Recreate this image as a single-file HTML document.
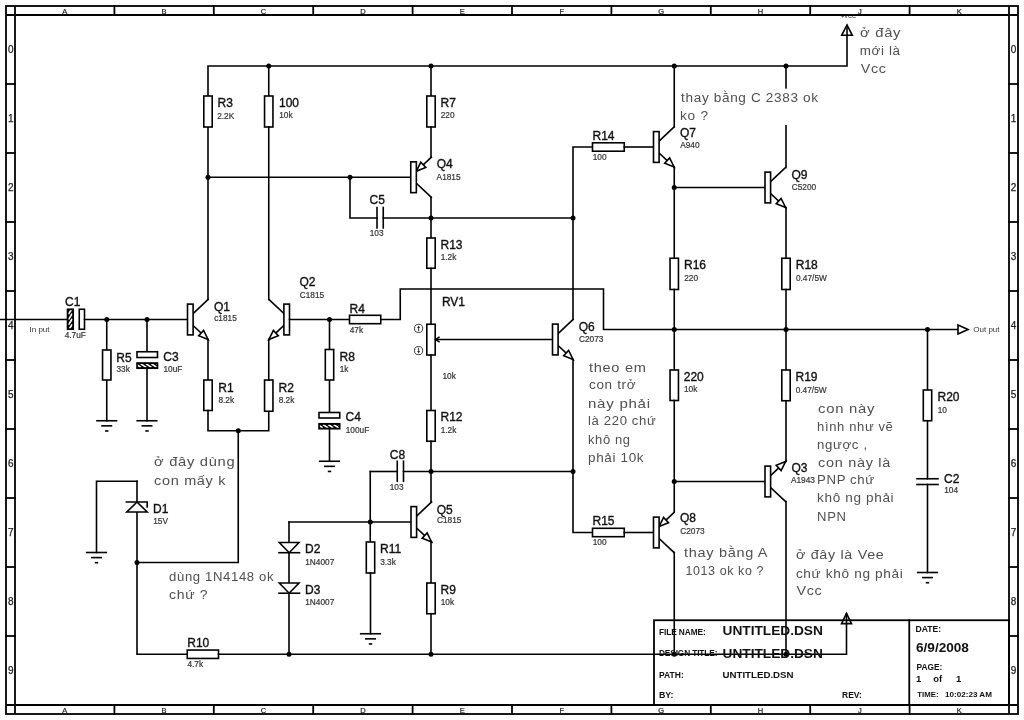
<!DOCTYPE html>
<html><head><meta charset="utf-8"><style>
html,body{margin:0;padding:0;background:#fff;}
svg{display:block;font-family:"Liberation Sans",sans-serif;will-change:transform;}
</style></head><body>
<svg width="1024" height="720" viewBox="0 0 1024 720">
<rect x="6" y="6" width="1012" height="708" fill="none" stroke="#000" stroke-width="1.8"/>
<line x1="6" y1="15" x2="1018" y2="15" stroke="#000" stroke-width="1.8"/>
<line x1="6" y1="705" x2="1018" y2="705" stroke="#000" stroke-width="1.8"/>
<line x1="15" y1="6" x2="15" y2="714" stroke="#000" stroke-width="1.8"/>
<line x1="1009" y1="6" x2="1009" y2="714" stroke="#000" stroke-width="1.8"/>
<polyline points="114.4,6 114.4,15" fill="none" stroke="#000" stroke-width="1.8" stroke-linejoin="miter" stroke-linecap="square"/>
<polyline points="114.4,705 114.4,714" fill="none" stroke="#000" stroke-width="1.8" stroke-linejoin="miter" stroke-linecap="square"/>
<polyline points="213.8,6 213.8,15" fill="none" stroke="#000" stroke-width="1.8" stroke-linejoin="miter" stroke-linecap="square"/>
<polyline points="213.8,705 213.8,714" fill="none" stroke="#000" stroke-width="1.8" stroke-linejoin="miter" stroke-linecap="square"/>
<polyline points="313.20000000000005,6 313.20000000000005,15" fill="none" stroke="#000" stroke-width="1.8" stroke-linejoin="miter" stroke-linecap="square"/>
<polyline points="313.20000000000005,705 313.20000000000005,714" fill="none" stroke="#000" stroke-width="1.8" stroke-linejoin="miter" stroke-linecap="square"/>
<polyline points="412.6,6 412.6,15" fill="none" stroke="#000" stroke-width="1.8" stroke-linejoin="miter" stroke-linecap="square"/>
<polyline points="412.6,705 412.6,714" fill="none" stroke="#000" stroke-width="1.8" stroke-linejoin="miter" stroke-linecap="square"/>
<polyline points="512.0,6 512.0,15" fill="none" stroke="#000" stroke-width="1.8" stroke-linejoin="miter" stroke-linecap="square"/>
<polyline points="512.0,705 512.0,714" fill="none" stroke="#000" stroke-width="1.8" stroke-linejoin="miter" stroke-linecap="square"/>
<polyline points="611.4000000000001,6 611.4000000000001,15" fill="none" stroke="#000" stroke-width="1.8" stroke-linejoin="miter" stroke-linecap="square"/>
<polyline points="611.4000000000001,705 611.4000000000001,714" fill="none" stroke="#000" stroke-width="1.8" stroke-linejoin="miter" stroke-linecap="square"/>
<polyline points="710.8000000000001,6 710.8000000000001,15" fill="none" stroke="#000" stroke-width="1.8" stroke-linejoin="miter" stroke-linecap="square"/>
<polyline points="710.8000000000001,705 710.8000000000001,714" fill="none" stroke="#000" stroke-width="1.8" stroke-linejoin="miter" stroke-linecap="square"/>
<polyline points="810.2,6 810.2,15" fill="none" stroke="#000" stroke-width="1.8" stroke-linejoin="miter" stroke-linecap="square"/>
<polyline points="810.2,705 810.2,714" fill="none" stroke="#000" stroke-width="1.8" stroke-linejoin="miter" stroke-linecap="square"/>
<polyline points="909.6,6 909.6,15" fill="none" stroke="#000" stroke-width="1.8" stroke-linejoin="miter" stroke-linecap="square"/>
<polyline points="909.6,705 909.6,714" fill="none" stroke="#000" stroke-width="1.8" stroke-linejoin="miter" stroke-linecap="square"/>
<text x="64.7" y="13.8" font-size="7.5" fill="#222" font-weight="normal" text-anchor="middle" stroke="#222" stroke-width="0.2">A</text>
<text x="64.7" y="712.6" font-size="7.5" fill="#222" font-weight="normal" text-anchor="middle" stroke="#222" stroke-width="0.2">A</text>
<text x="164.10000000000002" y="13.8" font-size="7.5" fill="#222" font-weight="normal" text-anchor="middle" stroke="#222" stroke-width="0.2">B</text>
<text x="164.10000000000002" y="712.6" font-size="7.5" fill="#222" font-weight="normal" text-anchor="middle" stroke="#222" stroke-width="0.2">B</text>
<text x="263.5" y="13.8" font-size="7.5" fill="#222" font-weight="normal" text-anchor="middle" stroke="#222" stroke-width="0.2">C</text>
<text x="263.5" y="712.6" font-size="7.5" fill="#222" font-weight="normal" text-anchor="middle" stroke="#222" stroke-width="0.2">C</text>
<text x="362.90000000000003" y="13.8" font-size="7.5" fill="#222" font-weight="normal" text-anchor="middle" stroke="#222" stroke-width="0.2">D</text>
<text x="362.90000000000003" y="712.6" font-size="7.5" fill="#222" font-weight="normal" text-anchor="middle" stroke="#222" stroke-width="0.2">D</text>
<text x="462.3" y="13.8" font-size="7.5" fill="#222" font-weight="normal" text-anchor="middle" stroke="#222" stroke-width="0.2">E</text>
<text x="462.3" y="712.6" font-size="7.5" fill="#222" font-weight="normal" text-anchor="middle" stroke="#222" stroke-width="0.2">E</text>
<text x="561.7" y="13.8" font-size="7.5" fill="#222" font-weight="normal" text-anchor="middle" stroke="#222" stroke-width="0.2">F</text>
<text x="561.7" y="712.6" font-size="7.5" fill="#222" font-weight="normal" text-anchor="middle" stroke="#222" stroke-width="0.2">F</text>
<text x="661.1" y="13.8" font-size="7.5" fill="#222" font-weight="normal" text-anchor="middle" stroke="#222" stroke-width="0.2">G</text>
<text x="661.1" y="712.6" font-size="7.5" fill="#222" font-weight="normal" text-anchor="middle" stroke="#222" stroke-width="0.2">G</text>
<text x="760.5" y="13.8" font-size="7.5" fill="#222" font-weight="normal" text-anchor="middle" stroke="#222" stroke-width="0.2">H</text>
<text x="760.5" y="712.6" font-size="7.5" fill="#222" font-weight="normal" text-anchor="middle" stroke="#222" stroke-width="0.2">H</text>
<text x="859.9000000000001" y="13.8" font-size="7.5" fill="#222" font-weight="normal" text-anchor="middle" stroke="#222" stroke-width="0.2">J</text>
<text x="859.9000000000001" y="712.6" font-size="7.5" fill="#222" font-weight="normal" text-anchor="middle" stroke="#222" stroke-width="0.2">J</text>
<text x="959.3000000000001" y="13.8" font-size="7.5" fill="#222" font-weight="normal" text-anchor="middle" stroke="#222" stroke-width="0.2">K</text>
<text x="959.3000000000001" y="712.6" font-size="7.5" fill="#222" font-weight="normal" text-anchor="middle" stroke="#222" stroke-width="0.2">K</text>
<polyline points="6,84.0 15,84.0" fill="none" stroke="#000" stroke-width="1.8" stroke-linejoin="miter" stroke-linecap="square"/>
<polyline points="1009,84.0 1018,84.0" fill="none" stroke="#000" stroke-width="1.8" stroke-linejoin="miter" stroke-linecap="square"/>
<polyline points="6,153.0 15,153.0" fill="none" stroke="#000" stroke-width="1.8" stroke-linejoin="miter" stroke-linecap="square"/>
<polyline points="1009,153.0 1018,153.0" fill="none" stroke="#000" stroke-width="1.8" stroke-linejoin="miter" stroke-linecap="square"/>
<polyline points="6,222.0 15,222.0" fill="none" stroke="#000" stroke-width="1.8" stroke-linejoin="miter" stroke-linecap="square"/>
<polyline points="1009,222.0 1018,222.0" fill="none" stroke="#000" stroke-width="1.8" stroke-linejoin="miter" stroke-linecap="square"/>
<polyline points="6,291.0 15,291.0" fill="none" stroke="#000" stroke-width="1.8" stroke-linejoin="miter" stroke-linecap="square"/>
<polyline points="1009,291.0 1018,291.0" fill="none" stroke="#000" stroke-width="1.8" stroke-linejoin="miter" stroke-linecap="square"/>
<polyline points="6,360.0 15,360.0" fill="none" stroke="#000" stroke-width="1.8" stroke-linejoin="miter" stroke-linecap="square"/>
<polyline points="1009,360.0 1018,360.0" fill="none" stroke="#000" stroke-width="1.8" stroke-linejoin="miter" stroke-linecap="square"/>
<polyline points="6,429.0 15,429.0" fill="none" stroke="#000" stroke-width="1.8" stroke-linejoin="miter" stroke-linecap="square"/>
<polyline points="1009,429.0 1018,429.0" fill="none" stroke="#000" stroke-width="1.8" stroke-linejoin="miter" stroke-linecap="square"/>
<polyline points="6,498.0 15,498.0" fill="none" stroke="#000" stroke-width="1.8" stroke-linejoin="miter" stroke-linecap="square"/>
<polyline points="1009,498.0 1018,498.0" fill="none" stroke="#000" stroke-width="1.8" stroke-linejoin="miter" stroke-linecap="square"/>
<polyline points="6,567.0 15,567.0" fill="none" stroke="#000" stroke-width="1.8" stroke-linejoin="miter" stroke-linecap="square"/>
<polyline points="1009,567.0 1018,567.0" fill="none" stroke="#000" stroke-width="1.8" stroke-linejoin="miter" stroke-linecap="square"/>
<polyline points="6,636.0 15,636.0" fill="none" stroke="#000" stroke-width="1.8" stroke-linejoin="miter" stroke-linecap="square"/>
<polyline points="1009,636.0 1018,636.0" fill="none" stroke="#000" stroke-width="1.8" stroke-linejoin="miter" stroke-linecap="square"/>
<text x="10.9" y="53.3" font-size="10" fill="#222" font-weight="normal" text-anchor="middle" stroke="#222" stroke-width="0.25">0</text>
<text x="1013.6" y="53.3" font-size="10" fill="#222" font-weight="normal" text-anchor="middle" stroke="#222" stroke-width="0.25">0</text>
<text x="10.9" y="122.3" font-size="10" fill="#222" font-weight="normal" text-anchor="middle" stroke="#222" stroke-width="0.25">1</text>
<text x="1013.6" y="122.3" font-size="10" fill="#222" font-weight="normal" text-anchor="middle" stroke="#222" stroke-width="0.25">1</text>
<text x="10.9" y="191.3" font-size="10" fill="#222" font-weight="normal" text-anchor="middle" stroke="#222" stroke-width="0.25">2</text>
<text x="1013.6" y="191.3" font-size="10" fill="#222" font-weight="normal" text-anchor="middle" stroke="#222" stroke-width="0.25">2</text>
<text x="10.9" y="260.3" font-size="10" fill="#222" font-weight="normal" text-anchor="middle" stroke="#222" stroke-width="0.25">3</text>
<text x="1013.6" y="260.3" font-size="10" fill="#222" font-weight="normal" text-anchor="middle" stroke="#222" stroke-width="0.25">3</text>
<text x="10.9" y="329.3" font-size="10" fill="#222" font-weight="normal" text-anchor="middle" stroke="#222" stroke-width="0.25">4</text>
<text x="1013.6" y="329.3" font-size="10" fill="#222" font-weight="normal" text-anchor="middle" stroke="#222" stroke-width="0.25">4</text>
<text x="10.9" y="398.3" font-size="10" fill="#222" font-weight="normal" text-anchor="middle" stroke="#222" stroke-width="0.25">5</text>
<text x="1013.6" y="398.3" font-size="10" fill="#222" font-weight="normal" text-anchor="middle" stroke="#222" stroke-width="0.25">5</text>
<text x="10.9" y="467.3" font-size="10" fill="#222" font-weight="normal" text-anchor="middle" stroke="#222" stroke-width="0.25">6</text>
<text x="1013.6" y="467.3" font-size="10" fill="#222" font-weight="normal" text-anchor="middle" stroke="#222" stroke-width="0.25">6</text>
<text x="10.9" y="536.3" font-size="10" fill="#222" font-weight="normal" text-anchor="middle" stroke="#222" stroke-width="0.25">7</text>
<text x="1013.6" y="536.3" font-size="10" fill="#222" font-weight="normal" text-anchor="middle" stroke="#222" stroke-width="0.25">7</text>
<text x="10.9" y="605.3" font-size="10" fill="#222" font-weight="normal" text-anchor="middle" stroke="#222" stroke-width="0.25">8</text>
<text x="1013.6" y="605.3" font-size="10" fill="#222" font-weight="normal" text-anchor="middle" stroke="#222" stroke-width="0.25">8</text>
<text x="10.9" y="674.3" font-size="10" fill="#222" font-weight="normal" text-anchor="middle" stroke="#222" stroke-width="0.25">9</text>
<text x="1013.6" y="674.3" font-size="10" fill="#222" font-weight="normal" text-anchor="middle" stroke="#222" stroke-width="0.25">9</text>
<polyline points="208,96 208,66 847,66 847,35" fill="none" stroke="#000" stroke-width="1.6" stroke-linejoin="miter" stroke-linecap="square"/>
<polygon points="847,25 841.7,35.3 852.3,35.3" fill="#fff" stroke="#000" stroke-width="1.6" stroke-linejoin="miter"/>
<polyline points="847,35 847,25.5" fill="none" stroke="#000" stroke-width="1.6" stroke-linejoin="miter" stroke-linecap="square"/>
<polyline points="0,319.5 67.5,319.5" fill="none" stroke="#000" stroke-width="1.6" stroke-linejoin="miter" stroke-linecap="square"/>
<rect x="67.5" y="309.25" width="5.75" height="20.0" fill="#000" stroke="#000" stroke-width="1.6"/>
<clipPath id="cp85"><rect x="68.4" y="310.15" width="3.9499999999999886" height="18.200000000000045"/></clipPath>
<g clip-path="url(#cp85)" stroke="#fff" stroke-width="1.7"><line x1="68.40" y1="308.97" x2="72.35" y2="302.93"/><line x1="68.40" y1="314.27" x2="72.35" y2="308.23"/><line x1="68.40" y1="319.57" x2="72.35" y2="313.53"/><line x1="68.40" y1="324.87" x2="72.35" y2="318.83"/><line x1="68.40" y1="330.17" x2="72.35" y2="324.13"/><line x1="68.40" y1="335.47" x2="72.35" y2="329.43"/></g>
<rect x="79.25" y="309.25" width="5.25" height="20.0" fill="#fff" stroke="#000" stroke-width="1.6"/>
<polyline points="84.5,319.5 187.5,319.5" fill="none" stroke="#000" stroke-width="1.6" stroke-linejoin="miter" stroke-linecap="square"/>
<circle cx="106.75" cy="319.5" r="2.5" fill="#000"/>
<circle cx="147" cy="319.5" r="2.5" fill="#000"/>
<polyline points="106.75,319.5 106.75,420.75" fill="none" stroke="#000" stroke-width="1.6" stroke-linejoin="miter" stroke-linecap="square"/>
<rect x="102.55" y="350" width="8.400000000000006" height="30" fill="#fff" stroke="#000" stroke-width="1.6"/>
<polyline points="96.95,420.75 116.55,420.75" fill="none" stroke="#000" stroke-width="1.6" stroke-linejoin="miter" stroke-linecap="square"/>
<polyline points="102.05,425.85 111.45,425.85" fill="none" stroke="#000" stroke-width="1.6" stroke-linejoin="miter" stroke-linecap="square"/>
<polyline points="105.85,430.95 107.65,430.95" fill="none" stroke="#000" stroke-width="1.6" stroke-linejoin="miter" stroke-linecap="square"/>
<polyline points="147,319.5 147,351.75" fill="none" stroke="#000" stroke-width="1.6" stroke-linejoin="miter" stroke-linecap="square"/>
<polyline points="147,368.25 147,420.75" fill="none" stroke="#000" stroke-width="1.6" stroke-linejoin="miter" stroke-linecap="square"/>
<rect x="137" y="351.75" width="20.5" height="5.75" fill="#fff" stroke="#000" stroke-width="1.6"/>
<rect x="137" y="363" width="20.5" height="5.25" fill="#000" stroke="#000" stroke-width="1.6"/>
<clipPath id="cp100"><rect x="137.9" y="363.9" width="18.69999999999999" height="3.4500000000000455"/></clipPath>
<g clip-path="url(#cp100)" stroke="#fff" stroke-width="1.7"><line x1="130.18" y1="363.90" x2="135.62" y2="367.35"/><line x1="135.48" y1="363.90" x2="140.92" y2="367.35"/><line x1="140.78" y1="363.90" x2="146.22" y2="367.35"/><line x1="146.08" y1="363.90" x2="151.52" y2="367.35"/><line x1="151.38" y1="363.90" x2="156.82" y2="367.35"/><line x1="156.68" y1="363.90" x2="162.12" y2="367.35"/></g>
<polyline points="137.2,420.75 156.8,420.75" fill="none" stroke="#000" stroke-width="1.6" stroke-linejoin="miter" stroke-linecap="square"/>
<polyline points="142.3,425.85 151.7,425.85" fill="none" stroke="#000" stroke-width="1.6" stroke-linejoin="miter" stroke-linecap="square"/>
<polyline points="146.1,430.95 147.9,430.95" fill="none" stroke="#000" stroke-width="1.6" stroke-linejoin="miter" stroke-linecap="square"/>
<polyline points="208,127 208,299.5" fill="none" stroke="#000" stroke-width="1.6" stroke-linejoin="miter" stroke-linecap="square"/>
<rect x="203.8" y="96" width="8.399999999999977" height="31" fill="#fff" stroke="#000" stroke-width="1.6"/>
<polyline points="193.1,313.5 208.1,299.5" fill="none" stroke="#000" stroke-width="1.6" stroke-linejoin="miter" stroke-linecap="square"/>
<polyline points="193.1,325.5 208.1,339.5" fill="none" stroke="#000" stroke-width="1.6" stroke-linejoin="miter" stroke-linecap="square"/>
<polygon points="208.1,339.5 203.61132065298878,330.3861776559056 198.6986292503967,335.6497755872542" fill="#fff" stroke="#000" stroke-width="1.6" stroke-linejoin="miter"/>
<rect x="187.5" y="304.1" width="5.599999999999994" height="30.799999999999955" fill="#fff" stroke="#000" stroke-width="1.6"/>
<polyline points="208,339.5 208,380" fill="none" stroke="#000" stroke-width="1.6" stroke-linejoin="miter" stroke-linecap="square"/>
<rect x="203.8" y="380" width="8.399999999999977" height="30.5" fill="#fff" stroke="#000" stroke-width="1.6"/>
<polyline points="208,410.5 208,430.75 268.75,430.75 268.75,411.25" fill="none" stroke="#000" stroke-width="1.6" stroke-linejoin="miter" stroke-linecap="square"/>
<circle cx="238.25" cy="430.75" r="2.5" fill="#000"/>
<polyline points="238.25,430.75 238.25,562.5 137,562.5" fill="none" stroke="#000" stroke-width="1.6" stroke-linejoin="miter" stroke-linecap="square"/>
<circle cx="137" cy="562.5" r="2.5" fill="#000"/>
<rect x="264.55" y="380" width="8.399999999999977" height="31.25" fill="#fff" stroke="#000" stroke-width="1.6"/>
<polyline points="268.75,380 268.75,339.5" fill="none" stroke="#000" stroke-width="1.6" stroke-linejoin="miter" stroke-linecap="square"/>
<polyline points="268.75,66 268.75,96" fill="none" stroke="#000" stroke-width="1.6" stroke-linejoin="miter" stroke-linecap="square"/>
<rect x="264.55" y="96" width="8.399999999999977" height="31" fill="#fff" stroke="#000" stroke-width="1.6"/>
<polyline points="268.75,127 268.75,299.5" fill="none" stroke="#000" stroke-width="1.6" stroke-linejoin="miter" stroke-linecap="square"/>
<circle cx="268.75" cy="66" r="2.5" fill="#000"/>
<polyline points="283.9,313.5 268.9,299.5" fill="none" stroke="#000" stroke-width="1.6" stroke-linejoin="miter" stroke-linecap="square"/>
<polyline points="283.9,325.5 268.9,339.5" fill="none" stroke="#000" stroke-width="1.6" stroke-linejoin="miter" stroke-linecap="square"/>
<polygon points="268.9,339.5 278.3013707496032,335.6497755872542 273.3886793470112,330.3861776559056" fill="#fff" stroke="#000" stroke-width="1.6" stroke-linejoin="miter"/>
<rect x="283.9" y="304.1" width="5.600000000000023" height="30.799999999999955" fill="#fff" stroke="#000" stroke-width="1.6"/>
<polyline points="289.5,319.5 349.5,319.5" fill="none" stroke="#000" stroke-width="1.6" stroke-linejoin="miter" stroke-linecap="square"/>
<circle cx="329.5" cy="319.5" r="2.5" fill="#000"/>
<rect x="349.5" y="315.3" width="31.25" height="8.399999999999977" fill="#fff" stroke="#000" stroke-width="1.6"/>
<polyline points="380.75,319.5 400.25,319.5 400.25,289 603.5,289 603.5,329.5 958,329.5" fill="none" stroke="#000" stroke-width="1.6" stroke-linejoin="miter" stroke-linecap="square"/>
<polygon points="968,329.5 958.0,325.0 958.0,334.0" fill="#fff" stroke="#000" stroke-width="1.6" stroke-linejoin="miter"/>
<polyline points="329.5,319.5 329.5,412.5" fill="none" stroke="#000" stroke-width="1.6" stroke-linejoin="miter" stroke-linecap="square"/>
<rect x="325.3" y="349.5" width="8.399999999999977" height="30.5" fill="#fff" stroke="#000" stroke-width="1.6"/>
<rect x="319" y="412.5" width="20.75" height="5.5" fill="#fff" stroke="#000" stroke-width="1.6"/>
<rect x="319" y="423.75" width="20.75" height="5.0" fill="#000" stroke="#000" stroke-width="1.6"/>
<clipPath id="cp136"><rect x="319.9" y="424.65" width="18.950000000000045" height="3.2000000000000455"/></clipPath>
<g clip-path="url(#cp136)" stroke="#fff" stroke-width="1.7"><line x1="312.38" y1="424.65" x2="317.42" y2="427.85"/><line x1="317.68" y1="424.65" x2="322.72" y2="427.85"/><line x1="322.98" y1="424.65" x2="328.02" y2="427.85"/><line x1="328.28" y1="424.65" x2="333.32" y2="427.85"/><line x1="333.58" y1="424.65" x2="338.62" y2="427.85"/><line x1="338.88" y1="424.65" x2="343.92" y2="427.85"/></g>
<polyline points="329.5,428.75 329.5,461.25" fill="none" stroke="#000" stroke-width="1.6" stroke-linejoin="miter" stroke-linecap="square"/>
<polyline points="319.7,461.25 339.3,461.25" fill="none" stroke="#000" stroke-width="1.6" stroke-linejoin="miter" stroke-linecap="square"/>
<polyline points="324.8,466.35 334.2,466.35" fill="none" stroke="#000" stroke-width="1.6" stroke-linejoin="miter" stroke-linecap="square"/>
<polyline points="328.6,471.45 330.4,471.45" fill="none" stroke="#000" stroke-width="1.6" stroke-linejoin="miter" stroke-linecap="square"/>
<circle cx="431" cy="66" r="2.5" fill="#000"/>
<polyline points="431,66 431,96" fill="none" stroke="#000" stroke-width="1.6" stroke-linejoin="miter" stroke-linecap="square"/>
<rect x="426.8" y="96" width="8.399999999999977" height="31" fill="#fff" stroke="#000" stroke-width="1.6"/>
<polyline points="431,127 431,157.25" fill="none" stroke="#000" stroke-width="1.6" stroke-linejoin="miter" stroke-linecap="square"/>
<polyline points="208,177.25 410.75,177.25" fill="none" stroke="#000" stroke-width="1.6" stroke-linejoin="miter" stroke-linecap="square"/>
<circle cx="208" cy="177.25" r="2.5" fill="#000"/>
<circle cx="350" cy="177.25" r="2.5" fill="#000"/>
<polyline points="416.35,171.25 431.35,157.25" fill="none" stroke="#000" stroke-width="1.6" stroke-linejoin="miter" stroke-linecap="square"/>
<polyline points="416.35,183.25 431.35,197.25" fill="none" stroke="#000" stroke-width="1.6" stroke-linejoin="miter" stroke-linecap="square"/>
<polygon points="416.35,171.25 425.75137074960327,167.39977558725423 420.83867934701124,162.13617765590556" fill="#fff" stroke="#000" stroke-width="1.6" stroke-linejoin="miter"/>
<rect x="410.75" y="161.85" width="5.600000000000023" height="30.80000000000001" fill="#fff" stroke="#000" stroke-width="1.6"/>
<polyline points="431,197.25 431,238" fill="none" stroke="#000" stroke-width="1.6" stroke-linejoin="miter" stroke-linecap="square"/>
<circle cx="431" cy="218" r="2.5" fill="#000"/>
<polyline points="350,177.25 350,218 377,218" fill="none" stroke="#000" stroke-width="1.6" stroke-linejoin="miter" stroke-linecap="square"/>
<polyline points="377,207.5 377,228" fill="none" stroke="#000" stroke-width="1.6" stroke-linejoin="miter" stroke-linecap="square"/>
<polyline points="383.25,207.5 383.25,228" fill="none" stroke="#000" stroke-width="1.6" stroke-linejoin="miter" stroke-linecap="square"/>
<polyline points="383.25,218 573,218" fill="none" stroke="#000" stroke-width="1.6" stroke-linejoin="miter" stroke-linecap="square"/>
<circle cx="573" cy="218" r="2.5" fill="#000"/>
<rect x="426.8" y="238" width="8.399999999999977" height="30.25" fill="#fff" stroke="#000" stroke-width="1.6"/>
<polyline points="431,268.25 431,324.25" fill="none" stroke="#000" stroke-width="1.6" stroke-linejoin="miter" stroke-linecap="square"/>
<rect x="426.8" y="324.25" width="8.399999999999977" height="30.75" fill="#fff" stroke="#000" stroke-width="1.6"/>
<circle cx="418.6" cy="328.4" r="4.1" fill="#fff" stroke="#222" stroke-width="0.9"/>
<circle cx="418.6" cy="350.6" r="4.1" fill="#fff" stroke="#222" stroke-width="0.9"/>
<path d="M418.6 331.2 V327" fill="none" stroke="#222" stroke-width="0.9"/><path d="M417.2 327.9 L418.6 325.6 L420 327.9 Z" fill="#222"/>
<path d="M418.6 347.8 V352" fill="none" stroke="#222" stroke-width="0.9"/><path d="M417.2 351.1 L418.6 353.4 L420 351.1 Z" fill="#222"/>
<polyline points="431,355 431,410.5" fill="none" stroke="#000" stroke-width="1.6" stroke-linejoin="miter" stroke-linecap="square"/>
<rect x="426.8" y="410.5" width="8.399999999999977" height="30.75" fill="#fff" stroke="#000" stroke-width="1.6"/>
<polyline points="431,441.25 431,501.5" fill="none" stroke="#000" stroke-width="1.6" stroke-linejoin="miter" stroke-linecap="square"/>
<circle cx="431" cy="471.5" r="2.5" fill="#000"/>
<polyline points="437,339.5 552.5,339.5" fill="none" stroke="#000" stroke-width="1.6" stroke-linejoin="miter" stroke-linecap="square"/>
<path d="M439.6 336.9 L435.6 339.5 L439.6 342.1" fill="none" stroke="#000" stroke-width="1.6"/>
<polyline points="558.1,333.5 573.1,319.5" fill="none" stroke="#000" stroke-width="1.6" stroke-linejoin="miter" stroke-linecap="square"/>
<polyline points="558.1,345.5 573.1,359.5" fill="none" stroke="#000" stroke-width="1.6" stroke-linejoin="miter" stroke-linecap="square"/>
<polygon points="573.1,359.5 568.6113206529889,350.3861776559056 563.6986292503967,355.6497755872542" fill="#fff" stroke="#000" stroke-width="1.6" stroke-linejoin="miter"/>
<rect x="552.5" y="324.1" width="5.600000000000023" height="30.799999999999955" fill="#fff" stroke="#000" stroke-width="1.6"/>
<polyline points="573,319.5 573,147 592.5,147" fill="none" stroke="#000" stroke-width="1.6" stroke-linejoin="miter" stroke-linecap="square"/>
<rect x="592.5" y="142.8" width="31.75" height="8.399999999999977" fill="#fff" stroke="#000" stroke-width="1.6"/>
<polyline points="624.25,147 653.5,147" fill="none" stroke="#000" stroke-width="1.6" stroke-linejoin="miter" stroke-linecap="square"/>
<polyline points="573,359.5 573,532.5 592.5,532.5" fill="none" stroke="#000" stroke-width="1.6" stroke-linejoin="miter" stroke-linecap="square"/>
<rect x="592.5" y="528.3" width="31.75" height="8.400000000000091" fill="#fff" stroke="#000" stroke-width="1.6"/>
<polyline points="624.25,532.5 653.5,532.5" fill="none" stroke="#000" stroke-width="1.6" stroke-linejoin="miter" stroke-linecap="square"/>
<circle cx="573" cy="471.5" r="2.5" fill="#000"/>
<polyline points="370.25,471.5 397.25,471.5" fill="none" stroke="#000" stroke-width="1.6" stroke-linejoin="miter" stroke-linecap="square"/>
<polyline points="397.25,461.25 397.25,481.25" fill="none" stroke="#000" stroke-width="1.6" stroke-linejoin="miter" stroke-linecap="square"/>
<polyline points="403.5,461.25 403.5,481.25" fill="none" stroke="#000" stroke-width="1.6" stroke-linejoin="miter" stroke-linecap="square"/>
<polyline points="403.5,471.5 573,471.5" fill="none" stroke="#000" stroke-width="1.6" stroke-linejoin="miter" stroke-linecap="square"/>
<polyline points="370.25,471.5 370.25,542" fill="none" stroke="#000" stroke-width="1.6" stroke-linejoin="miter" stroke-linecap="square"/>
<circle cx="370.25" cy="522" r="2.5" fill="#000"/>
<rect x="366.3" y="542" width="8.399999999999977" height="31" fill="#fff" stroke="#000" stroke-width="1.6"/>
<polyline points="370.5,573 370.5,633.75" fill="none" stroke="#000" stroke-width="1.6" stroke-linejoin="miter" stroke-linecap="square"/>
<polyline points="360.7,633.75 380.3,633.75" fill="none" stroke="#000" stroke-width="1.6" stroke-linejoin="miter" stroke-linecap="square"/>
<polyline points="365.8,638.85 375.2,638.85" fill="none" stroke="#000" stroke-width="1.6" stroke-linejoin="miter" stroke-linecap="square"/>
<polyline points="369.6,643.95 371.4,643.95" fill="none" stroke="#000" stroke-width="1.6" stroke-linejoin="miter" stroke-linecap="square"/>
<polyline points="289,522 411,522" fill="none" stroke="#000" stroke-width="1.6" stroke-linejoin="miter" stroke-linecap="square"/>
<polyline points="416.6,516 431.6,502" fill="none" stroke="#000" stroke-width="1.6" stroke-linejoin="miter" stroke-linecap="square"/>
<polyline points="416.6,528 431.6,542" fill="none" stroke="#000" stroke-width="1.6" stroke-linejoin="miter" stroke-linecap="square"/>
<polygon points="431.6,542 427.1113206529888,532.8861776559056 422.1986292503968,538.1497755872542" fill="#fff" stroke="#000" stroke-width="1.6" stroke-linejoin="miter"/>
<rect x="411" y="506.6" width="5.600000000000023" height="30.799999999999955" fill="#fff" stroke="#000" stroke-width="1.6"/>
<polyline points="431,542 431,583" fill="none" stroke="#000" stroke-width="1.6" stroke-linejoin="miter" stroke-linecap="square"/>
<rect x="426.8" y="583" width="8.399999999999977" height="30.75" fill="#fff" stroke="#000" stroke-width="1.6"/>
<polyline points="431,613.75 431,654.25" fill="none" stroke="#000" stroke-width="1.6" stroke-linejoin="miter" stroke-linecap="square"/>
<polyline points="289,522 289,654.25" fill="none" stroke="#000" stroke-width="1.6" stroke-linejoin="miter" stroke-linecap="square"/>
<polygon points="279.3,542.5 299,542.5 289.15,552.7" fill="#fff" stroke="#000" stroke-width="1.6" stroke-linejoin="miter"/>
<polyline points="279,552.7 299.5,552.7" fill="none" stroke="#000" stroke-width="1.6" stroke-linejoin="miter" stroke-linecap="square"/>
<polygon points="279.3,583 299,583 289.15,593.2" fill="#fff" stroke="#000" stroke-width="1.6" stroke-linejoin="miter"/>
<polyline points="279,593.2 299.5,593.2" fill="none" stroke="#000" stroke-width="1.6" stroke-linejoin="miter" stroke-linecap="square"/>
<polyline points="137,481.25 96.5,481.25 96.5,552.5" fill="none" stroke="#000" stroke-width="1.6" stroke-linejoin="miter" stroke-linecap="square"/>
<polyline points="86.7,552.5 106.3,552.5" fill="none" stroke="#000" stroke-width="1.6" stroke-linejoin="miter" stroke-linecap="square"/>
<polyline points="91.8,557.6 101.2,557.6" fill="none" stroke="#000" stroke-width="1.6" stroke-linejoin="miter" stroke-linecap="square"/>
<polyline points="95.6,562.7 97.4,562.7" fill="none" stroke="#000" stroke-width="1.6" stroke-linejoin="miter" stroke-linecap="square"/>
<polyline points="137,481.25 137,654.25 187.25,654.25" fill="none" stroke="#000" stroke-width="1.6" stroke-linejoin="miter" stroke-linecap="square"/>
<polygon points="126.8,512 147.2,512 137,502" fill="#fff" stroke="#000" stroke-width="1.6" stroke-linejoin="miter"/>
<polyline points="126.4,502 147.2,502 147.2,507" fill="none" stroke="#000" stroke-width="1.6" stroke-linejoin="miter" stroke-linecap="square"/>
<rect x="187.25" y="650.05" width="31.25" height="8.400000000000091" fill="#fff" stroke="#000" stroke-width="1.6"/>
<polyline points="218.5,654.25 846.5,654.25 846.5,623.5" fill="none" stroke="#000" stroke-width="1.6" stroke-linejoin="miter" stroke-linecap="square"/>
<polygon points="846.5,613.3 841.5,623.5999999999999 851.5,623.5999999999999" fill="#fff" stroke="#000" stroke-width="1.6" stroke-linejoin="miter"/>
<polyline points="846.5,623.5 846.5,614" fill="none" stroke="#000" stroke-width="1.6" stroke-linejoin="miter" stroke-linecap="square"/>
<circle cx="289" cy="654.25" r="2.5" fill="#000"/>
<circle cx="431" cy="654.25" r="2.5" fill="#000"/>
<circle cx="674.25" cy="654.25" r="2.5" fill="#000"/>
<circle cx="786" cy="654.25" r="2.5" fill="#000"/>
<polyline points="659.1,141 674.1,127" fill="none" stroke="#000" stroke-width="1.6" stroke-linejoin="miter" stroke-linecap="square"/>
<polyline points="659.1,153 674.1,167" fill="none" stroke="#000" stroke-width="1.6" stroke-linejoin="miter" stroke-linecap="square"/>
<polygon points="674.1,167 669.6113206529889,157.88617765590556 664.6986292503967,163.14977558725423" fill="#fff" stroke="#000" stroke-width="1.6" stroke-linejoin="miter"/>
<rect x="653.5" y="131.6" width="5.600000000000023" height="30.80000000000001" fill="#fff" stroke="#000" stroke-width="1.6"/>
<circle cx="674.25" cy="66" r="2.5" fill="#000"/>
<polyline points="674.25,66 674.25,127" fill="none" stroke="#000" stroke-width="1.6" stroke-linejoin="miter" stroke-linecap="square"/>
<polyline points="674.25,167 674.25,258.25" fill="none" stroke="#000" stroke-width="1.6" stroke-linejoin="miter" stroke-linecap="square"/>
<circle cx="674.25" cy="187.5" r="2.5" fill="#000"/>
<rect x="670.05" y="258.25" width="8.400000000000091" height="31.25" fill="#fff" stroke="#000" stroke-width="1.6"/>
<polyline points="674.25,289.5 674.25,370" fill="none" stroke="#000" stroke-width="1.6" stroke-linejoin="miter" stroke-linecap="square"/>
<circle cx="674.25" cy="329.5" r="2.5" fill="#000"/>
<rect x="670.05" y="370" width="8.400000000000091" height="30.5" fill="#fff" stroke="#000" stroke-width="1.6"/>
<polyline points="674.25,400.5 674.25,512" fill="none" stroke="#000" stroke-width="1.6" stroke-linejoin="miter" stroke-linecap="square"/>
<circle cx="674.25" cy="481.5" r="2.5" fill="#000"/>
<polyline points="674.25,187.5 765,187.5" fill="none" stroke="#000" stroke-width="1.6" stroke-linejoin="miter" stroke-linecap="square"/>
<polyline points="770.6,181.5 785.6,167.5" fill="none" stroke="#000" stroke-width="1.6" stroke-linejoin="miter" stroke-linecap="square"/>
<polyline points="770.6,193.5 785.6,207.5" fill="none" stroke="#000" stroke-width="1.6" stroke-linejoin="miter" stroke-linecap="square"/>
<polygon points="785.6,207.5 781.1113206529889,198.38617765590556 776.1986292503967,203.64977558725423" fill="#fff" stroke="#000" stroke-width="1.6" stroke-linejoin="miter"/>
<rect x="765" y="172.1" width="5.600000000000023" height="30.80000000000001" fill="#fff" stroke="#000" stroke-width="1.6"/>
<circle cx="786" cy="66" r="2.5" fill="#000"/>
<polyline points="786,66 786,167.5" fill="none" stroke="#000" stroke-width="1.6" stroke-linejoin="miter" stroke-linecap="square"/>
<polyline points="786,207.5 786,258.25" fill="none" stroke="#000" stroke-width="1.6" stroke-linejoin="miter" stroke-linecap="square"/>
<rect x="781.8" y="258.25" width="8.400000000000091" height="31.25" fill="#fff" stroke="#000" stroke-width="1.6"/>
<polyline points="786,289.5 786,370" fill="none" stroke="#000" stroke-width="1.6" stroke-linejoin="miter" stroke-linecap="square"/>
<circle cx="786" cy="329.5" r="2.5" fill="#000"/>
<rect x="781.8" y="370" width="8.400000000000091" height="30.75" fill="#fff" stroke="#000" stroke-width="1.6"/>
<polyline points="786,400.75 786,461.5" fill="none" stroke="#000" stroke-width="1.6" stroke-linejoin="miter" stroke-linecap="square"/>
<polyline points="674.25,481.5 765,481.5" fill="none" stroke="#000" stroke-width="1.6" stroke-linejoin="miter" stroke-linecap="square"/>
<polyline points="770.6,475.5 785.6,461.5" fill="none" stroke="#000" stroke-width="1.6" stroke-linejoin="miter" stroke-linecap="square"/>
<polyline points="770.6,487.5 785.6,501.5" fill="none" stroke="#000" stroke-width="1.6" stroke-linejoin="miter" stroke-linecap="square"/>
<polygon points="785.6,461.5 776.1986292503967,465.3502244127458 781.1113206529889,470.6138223440944" fill="#fff" stroke="#000" stroke-width="1.6" stroke-linejoin="miter"/>
<rect x="765" y="466.1" width="5.600000000000023" height="30.799999999999955" fill="#fff" stroke="#000" stroke-width="1.6"/>
<polyline points="786,501.5 786,654.25" fill="none" stroke="#000" stroke-width="1.6" stroke-linejoin="miter" stroke-linecap="square"/>
<polyline points="659.1,526.5 674.1,512.5" fill="none" stroke="#000" stroke-width="1.6" stroke-linejoin="miter" stroke-linecap="square"/>
<polyline points="659.1,538.5 674.1,552.5" fill="none" stroke="#000" stroke-width="1.6" stroke-linejoin="miter" stroke-linecap="square"/>
<polygon points="659.1,526.5 668.5013707496033,522.6497755872542 663.5886793470112,517.3861776559056" fill="#fff" stroke="#000" stroke-width="1.6" stroke-linejoin="miter"/>
<rect x="653.5" y="517.1" width="5.600000000000023" height="30.799999999999955" fill="#fff" stroke="#000" stroke-width="1.6"/>
<polyline points="674.25,552.5 674.25,654.25" fill="none" stroke="#000" stroke-width="1.6" stroke-linejoin="miter" stroke-linecap="square"/>
<circle cx="927.5" cy="329.5" r="2.5" fill="#000"/>
<polyline points="927.5,329.5 927.5,390" fill="none" stroke="#000" stroke-width="1.6" stroke-linejoin="miter" stroke-linecap="square"/>
<rect x="923.3" y="390" width="8.400000000000091" height="30.75" fill="#fff" stroke="#000" stroke-width="1.6"/>
<polyline points="927.5,420.75 927.5,478.75" fill="none" stroke="#000" stroke-width="1.6" stroke-linejoin="miter" stroke-linecap="square"/>
<polyline points="917,478.75 938,478.75" fill="none" stroke="#000" stroke-width="1.6" stroke-linejoin="miter" stroke-linecap="square"/>
<polyline points="917,484.5 938,484.5" fill="none" stroke="#000" stroke-width="1.6" stroke-linejoin="miter" stroke-linecap="square"/>
<polyline points="927.5,484.5 927.5,572.5" fill="none" stroke="#000" stroke-width="1.6" stroke-linejoin="miter" stroke-linecap="square"/>
<polyline points="917.7,572.5 937.3,572.5" fill="none" stroke="#000" stroke-width="1.6" stroke-linejoin="miter" stroke-linecap="square"/>
<polyline points="922.8,577.6 932.2,577.6" fill="none" stroke="#000" stroke-width="1.6" stroke-linejoin="miter" stroke-linecap="square"/>
<polyline points="926.6,582.7 928.4,582.7" fill="none" stroke="#000" stroke-width="1.6" stroke-linejoin="miter" stroke-linecap="square"/>
<rect x="654" y="620.25" width="355" height="84.75" fill="none" stroke="#000" stroke-width="1.8"/>
<polyline points="909.25,620.25 909.25,705" fill="none" stroke="#000" stroke-width="1.8" stroke-linejoin="miter" stroke-linecap="square"/>
<text x="217.5" y="107.35" font-size="12" fill="#111" font-weight="normal" text-anchor="start" stroke="#111" stroke-width="0.35">R3</text>
<text x="217.2" y="118.8" font-size="8.3" fill="#333" font-weight="normal" text-anchor="start" stroke="#333" stroke-width="0.2">2.2K</text>
<text x="279.0" y="107.35" font-size="12" fill="#111" font-weight="normal" text-anchor="start" stroke="#111" stroke-width="0.35">100</text>
<text x="279.2" y="118.3" font-size="8.3" fill="#333" font-weight="normal" text-anchor="start" stroke="#333" stroke-width="0.2">10k</text>
<text x="440.5" y="107.35" font-size="12" fill="#111" font-weight="normal" text-anchor="start" stroke="#111" stroke-width="0.35">R7</text>
<text x="440.7" y="118.3" font-size="8.3" fill="#333" font-weight="normal" text-anchor="start" stroke="#333" stroke-width="0.2">220</text>
<text x="436.75" y="168.35" font-size="12" fill="#111" font-weight="normal" text-anchor="start" stroke="#111" stroke-width="0.35">Q4</text>
<text x="436.59999999999997" y="179.8" font-size="8.3" fill="#333" font-weight="normal" text-anchor="start" stroke="#333" stroke-width="0.2">A1815</text>
<text x="369.5" y="203.6" font-size="12" fill="#111" font-weight="normal" text-anchor="start" stroke="#111" stroke-width="0.35">C5</text>
<text x="369.7" y="236.3" font-size="8.3" fill="#333" font-weight="normal" text-anchor="start" stroke="#333" stroke-width="0.2">103</text>
<text x="440.5" y="249.1" font-size="12" fill="#111" font-weight="normal" text-anchor="start" stroke="#111" stroke-width="0.35">R13</text>
<text x="440.7" y="260.3" font-size="8.3" fill="#333" font-weight="normal" text-anchor="start" stroke="#333" stroke-width="0.2">1.2k</text>
<text x="441.9" y="306.0" font-size="12" fill="#111" font-weight="normal" text-anchor="start" stroke="#111" stroke-width="0.35">RV1</text>
<text x="442.5" y="378.6" font-size="8.3" fill="#333" font-weight="normal" text-anchor="start" stroke="#333" stroke-width="0.2">10k</text>
<text x="299.5" y="286.1" font-size="12" fill="#111" font-weight="normal" text-anchor="start" stroke="#111" stroke-width="0.35">Q2</text>
<text x="299.7" y="297.8" font-size="8.3" fill="#333" font-weight="normal" text-anchor="start" stroke="#333" stroke-width="0.2">C1815</text>
<text x="349.5" y="313.1" font-size="12" fill="#111" font-weight="normal" text-anchor="start" stroke="#111" stroke-width="0.35">R4</text>
<text x="349.7" y="333.3" font-size="8.3" fill="#333" font-weight="normal" text-anchor="start" stroke="#333" stroke-width="0.2">47k</text>
<text x="339.5" y="361.1" font-size="12" fill="#111" font-weight="normal" text-anchor="start" stroke="#111" stroke-width="0.35">R8</text>
<text x="339.7" y="371.8" font-size="8.3" fill="#333" font-weight="normal" text-anchor="start" stroke="#333" stroke-width="0.2">1k</text>
<text x="65.1" y="306.20000000000005" font-size="12" fill="#111" font-weight="normal" text-anchor="start" stroke="#111" stroke-width="0.35">C1</text>
<text x="64.7" y="337.8" font-size="8.3" fill="#333" font-weight="normal" text-anchor="start" stroke="#333" stroke-width="0.2">4.7uF</text>
<text x="29.5" y="332" font-size="8" fill="#333" font-weight="normal" text-anchor="start">In put</text>
<text x="116.25" y="362.35" font-size="12" fill="#111" font-weight="normal" text-anchor="start" stroke="#111" stroke-width="0.35">R5</text>
<text x="116.45" y="372.05" font-size="8.3" fill="#333" font-weight="normal" text-anchor="start" stroke="#333" stroke-width="0.2">33k</text>
<text x="163.25" y="361.1" font-size="12" fill="#111" font-weight="normal" text-anchor="start" stroke="#111" stroke-width="0.35">C3</text>
<text x="163.45" y="372.05" font-size="8.3" fill="#333" font-weight="normal" text-anchor="start" stroke="#333" stroke-width="0.2">10uF</text>
<text x="214.0" y="311.1" font-size="12" fill="#111" font-weight="normal" text-anchor="start" stroke="#111" stroke-width="0.35">Q1</text>
<text x="214.2" y="320.8" font-size="8.3" fill="#333" font-weight="normal" text-anchor="start" stroke="#333" stroke-width="0.2">c1815</text>
<text x="218.25" y="391.6" font-size="12" fill="#111" font-weight="normal" text-anchor="start" stroke="#111" stroke-width="0.35">R1</text>
<text x="218.45" y="403.3" font-size="8.3" fill="#333" font-weight="normal" text-anchor="start" stroke="#333" stroke-width="0.2">8.2k</text>
<text x="278.5" y="391.6" font-size="12" fill="#111" font-weight="normal" text-anchor="start" stroke="#111" stroke-width="0.35">R2</text>
<text x="278.7" y="403.3" font-size="8.3" fill="#333" font-weight="normal" text-anchor="start" stroke="#333" stroke-width="0.2">8.2k</text>
<text x="345.5" y="421.1" font-size="12" fill="#111" font-weight="normal" text-anchor="start" stroke="#111" stroke-width="0.35">C4</text>
<text x="345.7" y="432.8" font-size="8.3" fill="#333" font-weight="normal" text-anchor="start" stroke="#333" stroke-width="0.2">100uF</text>
<text x="440.5" y="421.1" font-size="12" fill="#111" font-weight="normal" text-anchor="start" stroke="#111" stroke-width="0.35">R12</text>
<text x="440.7" y="433.3" font-size="8.3" fill="#333" font-weight="normal" text-anchor="start" stroke="#333" stroke-width="0.2">1.2k</text>
<text x="389.75" y="458.6" font-size="12" fill="#111" font-weight="normal" text-anchor="start" stroke="#111" stroke-width="0.35">C8</text>
<text x="389.7" y="489.55" font-size="8.3" fill="#333" font-weight="normal" text-anchor="start" stroke="#333" stroke-width="0.2">103</text>
<text x="436.75" y="513.6" font-size="12" fill="#111" font-weight="normal" text-anchor="start" stroke="#111" stroke-width="0.35">Q5</text>
<text x="436.95" y="523.3" font-size="8.3" fill="#333" font-weight="normal" text-anchor="start" stroke="#333" stroke-width="0.2">C1815</text>
<text x="380.0" y="553.1" font-size="12" fill="#111" font-weight="normal" text-anchor="start" stroke="#111" stroke-width="0.35">R11</text>
<text x="380.2" y="564.55" font-size="8.3" fill="#333" font-weight="normal" text-anchor="start" stroke="#333" stroke-width="0.2">3.3k</text>
<text x="305.0" y="553.1" font-size="12" fill="#111" font-weight="normal" text-anchor="start" stroke="#111" stroke-width="0.35">D2</text>
<text x="305.2" y="565.3" font-size="8.3" fill="#333" font-weight="normal" text-anchor="start" stroke="#333" stroke-width="0.2">1N4007</text>
<text x="305.0" y="593.6" font-size="12" fill="#111" font-weight="normal" text-anchor="start" stroke="#111" stroke-width="0.35">D3</text>
<text x="305.2" y="605.3" font-size="8.3" fill="#333" font-weight="normal" text-anchor="start" stroke="#333" stroke-width="0.2">1N4007</text>
<text x="440.5" y="593.6" font-size="12" fill="#111" font-weight="normal" text-anchor="start" stroke="#111" stroke-width="0.35">R9</text>
<text x="440.7" y="605.3" font-size="8.3" fill="#333" font-weight="normal" text-anchor="start" stroke="#333" stroke-width="0.2">10k</text>
<text x="153.0" y="513.1" font-size="12" fill="#111" font-weight="normal" text-anchor="start" stroke="#111" stroke-width="0.35">D1</text>
<text x="153.2" y="524.05" font-size="8.3" fill="#333" font-weight="normal" text-anchor="start" stroke="#333" stroke-width="0.2">15V</text>
<text x="187.25" y="646.85" font-size="12" fill="#111" font-weight="normal" text-anchor="start" stroke="#111" stroke-width="0.35">R10</text>
<text x="187.45" y="667.05" font-size="8.3" fill="#333" font-weight="normal" text-anchor="start" stroke="#333" stroke-width="0.2">4.7k</text>
<text x="592.5" y="139.85" font-size="12" fill="#111" font-weight="normal" text-anchor="start" stroke="#111" stroke-width="0.35">R14</text>
<text x="592.7" y="159.55" font-size="8.3" fill="#333" font-weight="normal" text-anchor="start" stroke="#333" stroke-width="0.2">100</text>
<text x="680.0" y="137.35" font-size="12" fill="#111" font-weight="normal" text-anchor="start" stroke="#111" stroke-width="0.35">Q7</text>
<text x="680.2" y="148.3" font-size="8.3" fill="#333" font-weight="normal" text-anchor="start" stroke="#333" stroke-width="0.2">A940</text>
<text x="578.75" y="330.6" font-size="12" fill="#111" font-weight="normal" text-anchor="start" stroke="#111" stroke-width="0.35">Q6</text>
<text x="578.95" y="341.55" font-size="8.3" fill="#333" font-weight="normal" text-anchor="start" stroke="#333" stroke-width="0.2">C2073</text>
<text x="592.5" y="524.85" font-size="12" fill="#111" font-weight="normal" text-anchor="start" stroke="#111" stroke-width="0.35">R15</text>
<text x="592.7" y="545.05" font-size="8.3" fill="#333" font-weight="normal" text-anchor="start" stroke="#333" stroke-width="0.2">100</text>
<text x="680.0" y="522.35" font-size="12" fill="#111" font-weight="normal" text-anchor="start" stroke="#111" stroke-width="0.35">Q8</text>
<text x="680.2" y="533.8" font-size="8.3" fill="#333" font-weight="normal" text-anchor="start" stroke="#333" stroke-width="0.2">C2073</text>
<text x="791.5" y="178.6" font-size="12" fill="#111" font-weight="normal" text-anchor="start" stroke="#111" stroke-width="0.35">Q9</text>
<text x="791.7" y="189.55" font-size="8.3" fill="#333" font-weight="normal" text-anchor="start" stroke="#333" stroke-width="0.2">C5200</text>
<text x="684.0" y="268.6" font-size="12" fill="#111" font-weight="normal" text-anchor="start" stroke="#111" stroke-width="0.35">R16</text>
<text x="684.2" y="280.8" font-size="8.3" fill="#333" font-weight="normal" text-anchor="start" stroke="#333" stroke-width="0.2">220</text>
<text x="795.75" y="268.6" font-size="12" fill="#111" font-weight="normal" text-anchor="start" stroke="#111" stroke-width="0.35">R18</text>
<text x="795.95" y="280.8" font-size="8.3" fill="#333" font-weight="normal" text-anchor="start" stroke="#333" stroke-width="0.2">0.47/5W</text>
<text x="683.75" y="381.1" font-size="12" fill="#111" font-weight="normal" text-anchor="start" stroke="#111" stroke-width="0.35">220</text>
<text x="683.95" y="392.05" font-size="8.3" fill="#333" font-weight="normal" text-anchor="start" stroke="#333" stroke-width="0.2">10k</text>
<text x="795.5" y="380.6" font-size="12" fill="#111" font-weight="normal" text-anchor="start" stroke="#111" stroke-width="0.35">R19</text>
<text x="795.7" y="392.8" font-size="8.3" fill="#333" font-weight="normal" text-anchor="start" stroke="#333" stroke-width="0.2">0.47/5W</text>
<text x="791.5" y="472.35" font-size="12" fill="#111" font-weight="normal" text-anchor="start" stroke="#111" stroke-width="0.35">Q3</text>
<text x="790.95" y="483.3" font-size="8.3" fill="#333" font-weight="normal" text-anchor="start" stroke="#333" stroke-width="0.2">A1943</text>
<text x="937.5" y="401.1" font-size="12" fill="#111" font-weight="normal" text-anchor="start" stroke="#111" stroke-width="0.35">R20</text>
<text x="937.7" y="413.3" font-size="8.3" fill="#333" font-weight="normal" text-anchor="start" stroke="#333" stroke-width="0.2">10</text>
<text x="944.0" y="482.85" font-size="12" fill="#111" font-weight="normal" text-anchor="start" stroke="#111" stroke-width="0.35">C2</text>
<text x="944.2" y="493.3" font-size="8.3" fill="#333" font-weight="normal" text-anchor="start" stroke="#333" stroke-width="0.2">104</text>
<text x="973.3" y="332" font-size="8" fill="#333" font-weight="normal" text-anchor="start">Out put</text>
<text x="841" y="17.6" font-size="5.6" fill="#222" font-weight="normal" text-anchor="start">+VCC</text>
<text x="659" y="634.5" font-size="8.3" fill="#111" font-weight="bold" text-anchor="start" textLength="46.7" lengthAdjust="spacing">FILE NAME:</text>
<text x="722.5" y="635.25" font-size="13.7" fill="#111" font-weight="bold" text-anchor="start">UNTITLED.DSN</text>
<text x="659" y="656" font-size="8.3" fill="#111" font-weight="bold" text-anchor="start" textLength="58.4" lengthAdjust="spacing">DESIGN TITLE:</text>
<text x="722.5" y="658" font-size="13.7" fill="#111" font-weight="bold" text-anchor="start">UNTITLED.DSN</text>
<text x="659" y="677.8" font-size="8.5" fill="#111" font-weight="bold" text-anchor="start">PATH:</text>
<text x="722.5" y="678.2" font-size="9.7" fill="#111" font-weight="bold" text-anchor="start">UNTITLED.DSN</text>
<text x="659" y="697.5" font-size="8.8" fill="#111" font-weight="bold" text-anchor="start">BY:</text>
<text x="842" y="697.9" font-size="8.5" fill="#111" font-weight="bold" text-anchor="start">REV:</text>
<text x="915.5" y="632.25" font-size="8.6" fill="#111" font-weight="bold" text-anchor="start">DATE:</text>
<text x="916" y="651.6" font-size="13.6" fill="#111" font-weight="bold" text-anchor="start">6/9/2008</text>
<text x="916.5" y="669.75" font-size="8.4" fill="#111" font-weight="bold" text-anchor="start">PAGE:</text>
<text x="916" y="682" font-size="9.6" fill="#111" font-weight="bold" text-anchor="start">1</text>
<text x="933.25" y="682" font-size="9.4" fill="#111" font-weight="bold" text-anchor="start">of</text>
<text x="956" y="682" font-size="9.6" fill="#111" font-weight="bold" text-anchor="start">1</text>
<text x="917.3" y="697.3" font-size="7.8" fill="#111" font-weight="bold" text-anchor="start">TIME:</text>
<text x="945" y="697.3" font-size="8.1" fill="#111" font-weight="bold" text-anchor="start">10:02:23 AM</text>
<rect x="678" y="88.7" width="145" height="36.3" fill="#fff"/>
<text x="860" y="36.7" font-size="12.5" fill="#505050" letter-spacing="0.6" textLength="41.2" lengthAdjust="spacingAndGlyphs">ở đây</text>
<text x="859.8" y="54.6" font-size="12.5" fill="#505050" letter-spacing="0.6" textLength="40.8" lengthAdjust="spacingAndGlyphs">mới là</text>
<text x="860.8" y="72.5" font-size="12.5" fill="#505050" letter-spacing="0.6" textLength="25.8" lengthAdjust="spacingAndGlyphs">Vcc</text>
<text x="681.1" y="101.9" font-size="12.5" fill="#505050" letter-spacing="0.6" textLength="137.6" lengthAdjust="spacingAndGlyphs">thay bằng C 2383 ok</text>
<text x="680.1" y="119.8" font-size="12.5" fill="#505050" letter-spacing="0.6" textLength="28.6" lengthAdjust="spacingAndGlyphs">ko ?</text>
<text x="589" y="371.8" font-size="12.5" fill="#505050" letter-spacing="0.6" textLength="57.6" lengthAdjust="spacingAndGlyphs">theo em</text>
<text x="589" y="389.3" font-size="12.5" fill="#505050" letter-spacing="0.6" textLength="47.2" lengthAdjust="spacingAndGlyphs">con trở</text>
<text x="588" y="407.7" font-size="12.5" fill="#505050" letter-spacing="0.6" textLength="62.8" lengthAdjust="spacingAndGlyphs">này phải</text>
<text x="588" y="425.3" font-size="12.5" fill="#505050" letter-spacing="0.6" textLength="68.4" lengthAdjust="spacingAndGlyphs">là 220 chứ</text>
<text x="588" y="443.7" font-size="12.5" fill="#505050" letter-spacing="0.6" textLength="42.6" lengthAdjust="spacingAndGlyphs">khô ng</text>
<text x="588" y="461.7" font-size="12.5" fill="#505050" letter-spacing="0.6" textLength="56.2" lengthAdjust="spacingAndGlyphs">phải 10k</text>
<text x="818.1" y="413" font-size="12.5" fill="#505050" letter-spacing="0.6" textLength="57.0" lengthAdjust="spacingAndGlyphs">con này</text>
<text x="817.1" y="430.7" font-size="12.5" fill="#505050" letter-spacing="0.6" textLength="76.4" lengthAdjust="spacingAndGlyphs">hình như vẽ</text>
<text x="817.1" y="448.8" font-size="12.5" fill="#505050" letter-spacing="0.6" textLength="50.6" lengthAdjust="spacingAndGlyphs">ngược ,</text>
<text x="818.1" y="466.8" font-size="12.5" fill="#505050" letter-spacing="0.6" textLength="72.8" lengthAdjust="spacingAndGlyphs">con này là</text>
<text x="817.1" y="484.4" font-size="12.5" fill="#505050" letter-spacing="0.6" textLength="57.6" lengthAdjust="spacingAndGlyphs">PNP chứ</text>
<text x="817.1" y="502.4" font-size="12.5" fill="#505050" letter-spacing="0.6" textLength="77.2" lengthAdjust="spacingAndGlyphs">khô ng phải</text>
<text x="817.1" y="520.5" font-size="12.5" fill="#505050" letter-spacing="0.6" textLength="29.4" lengthAdjust="spacingAndGlyphs">NPN</text>
<text x="684" y="556.7" font-size="12.5" fill="#505050" letter-spacing="0.6" textLength="84.2" lengthAdjust="spacingAndGlyphs">thay bằng A</text>
<text x="685.5" y="574.5" font-size="12.5" fill="#505050" letter-spacing="0.6" textLength="78.6" lengthAdjust="spacingAndGlyphs">1013 ok ko ?</text>
<text x="795.9" y="559.3" font-size="12.5" fill="#505050" letter-spacing="0.6" textLength="88.6" lengthAdjust="spacingAndGlyphs">ở đây là Vee</text>
<text x="795.9" y="577.7" font-size="12.5" fill="#505050" letter-spacing="0.6" textLength="107.6" lengthAdjust="spacingAndGlyphs">chứ khô ng phải</text>
<text x="796.4" y="595.1" font-size="12.5" fill="#505050" letter-spacing="0.6" textLength="26.0" lengthAdjust="spacingAndGlyphs">Vcc</text>
<text x="154" y="466.3" font-size="12.5" fill="#505050" letter-spacing="0.6" textLength="81.4" lengthAdjust="spacingAndGlyphs">ở đây dùng</text>
<text x="154" y="484.6" font-size="12.5" fill="#505050" letter-spacing="0.6" textLength="72.2" lengthAdjust="spacingAndGlyphs">con mấy k</text>
<text x="169.1" y="580.9" font-size="12.5" fill="#505050" letter-spacing="0.6" textLength="105.0" lengthAdjust="spacingAndGlyphs">dùng 1N4148 ok</text>
<text x="169.1" y="598.5" font-size="12.5" fill="#505050" letter-spacing="0.6" textLength="39.2" lengthAdjust="spacingAndGlyphs">chứ ?</text>
</svg></body></html>
